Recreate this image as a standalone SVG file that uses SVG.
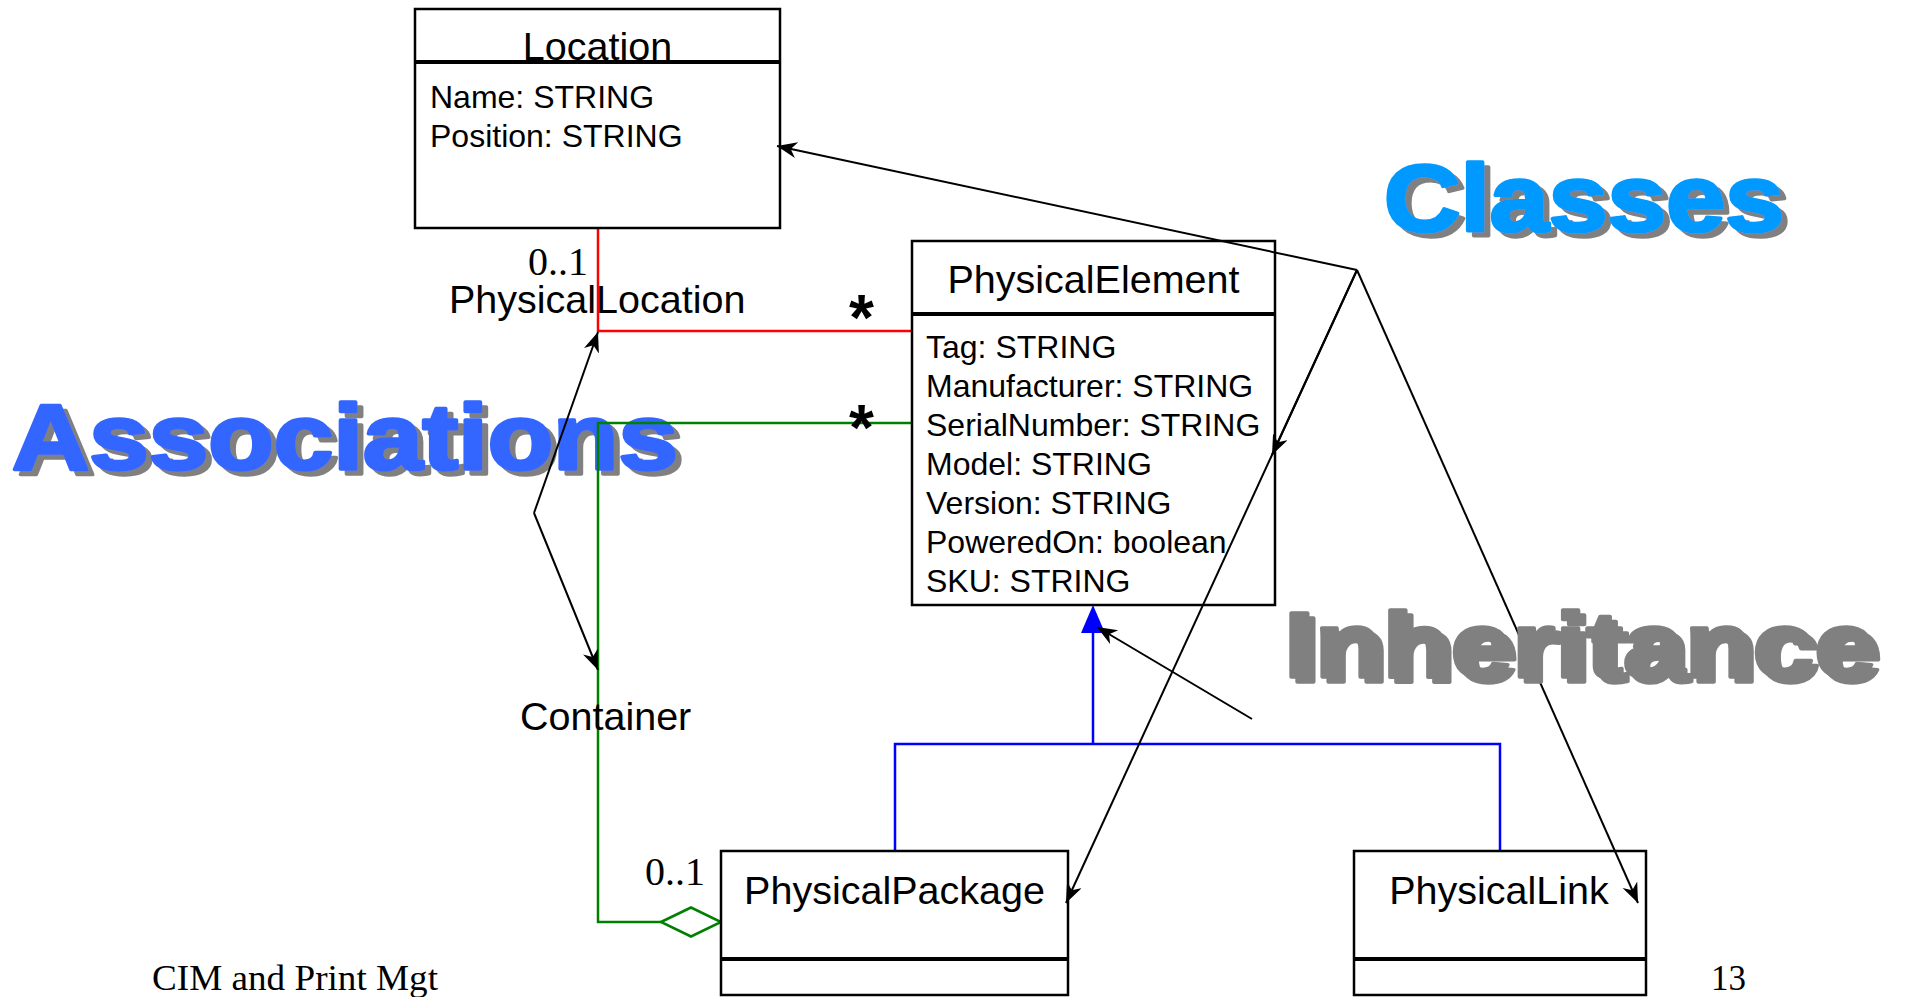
<svg xmlns="http://www.w3.org/2000/svg" width="1906" height="997" viewBox="0 0 1906 997">
<style>
  .box { fill: #ffffff; stroke: #000000; stroke-width: 2.5; }
  .sep { stroke: #000000; stroke-width: 4; }
  .cls { font-family: "Liberation Sans", Arial, sans-serif; font-size: 39.5px; fill: #000000; }
  .attr { font-family: "Liberation Sans", Arial, sans-serif; font-size: 32px; fill: #000000; }
  .lbl { font-family: "Liberation Sans", Arial, sans-serif; font-size: 39.5px; fill: #000000; }
  .mult { font-family: "Liberation Serif", "Times New Roman", serif; font-size: 40px; fill: #000000; }
  .star { font-family: "Liberation Sans", Arial, sans-serif; font-size: 64px; font-weight: bold; fill: #000000; }
  .foot { font-family: "Liberation Serif", "Times New Roman", serif; font-size: 35px; fill: #000000; }
  .big { font-family: "Liberation Sans", Arial, sans-serif; font-weight: bold; stroke-width: 3.5; stroke-linejoin: round; filter: url(#shadow); }
  .arrow { fill: none; stroke: #000000; stroke-width: 2; marker-end: url(#ah); }
</style>
<defs>
  <marker id="ah" markerUnits="userSpaceOnUse" markerWidth="24" markerHeight="18" refX="20" refY="8" orient="auto">
    <path d="M0,0 L20,8 L0,16 L6,8 Z" fill="#000000"/>
  </marker>
  <filter id="shadow" x="-5%" y="-15%" width="115%" height="140%">
    <feOffset in="SourceAlpha" dx="6" dy="5" result="off"/>
    <feFlood flood-color="#808080" result="col"/>
    <feComposite in="col" in2="off" operator="in" result="sh"/>
    <feMerge>
      <feMergeNode in="sh"/>
      <feMergeNode in="SourceGraphic"/>
    </feMerge>
  </filter>
</defs>
<rect width="1906" height="997" fill="#ffffff"/>

<g id="label-associations">
  <text class="big" x="12" y="469" font-size="92" fill="#3366ff" stroke="#3366ff" textLength="666" lengthAdjust="spacingAndGlyphs">Associations</text>
</g>
<g id="label-classes">
  <text class="big" x="1384" y="231" font-size="94" fill="#0099ff" stroke="#0099ff" textLength="400" lengthAdjust="spacingAndGlyphs">Classes</text>
</g>

<g id="connectors">
  <polyline points="598,228 598,331 913,331" fill="none" stroke="#ff0000" stroke-width="2.5"/>
  <polyline points="913,423 598,423 598,922 661,922" fill="none" stroke="#008000" stroke-width="2.5"/>
  <polygon points="661,922 691,907.5 721,922 691,936.5" fill="#ffffff" stroke="#008000" stroke-width="2.5"/>
  <polyline points="1093,632 1093,744" fill="none" stroke="#0000ff" stroke-width="2.5"/>
  <polyline points="895,851 895,744 1500,744 1500,851" fill="none" stroke="#0000ff" stroke-width="2.5"/>
  <polygon points="1093,605 1105,633 1081,633" fill="#0000ff"/>
  <text class="mult" x="528" y="275">0..1</text>
  <text class="lbl" x="449" y="313">PhysicalLocation</text>
  <text class="star" x="849" y="340">*</text>
  <text class="star" x="849" y="450">*</text>
  <text class="lbl" x="520" y="730">Container</text>
  <text class="mult" x="645" y="885">0..1</text>
</g>

<g id="node-location">
  <rect class="box" x="415" y="9" width="365" height="219"/>
  <line class="sep" x1="415" y1="62" x2="780" y2="62"/>
  <text class="cls" x="597.5" y="60" text-anchor="middle">Location</text>
  <text class="attr" x="430" y="108">Name: STRING</text>
  <text class="attr" x="430" y="147">Position: STRING</text>
</g>

<g id="node-physicalelement">
  <rect class="box" x="912" y="241" width="363" height="364"/>
  <line class="sep" x1="912" y1="314" x2="1275" y2="314"/>
  <text class="cls" x="1093.5" y="293" text-anchor="middle">PhysicalElement</text>
  <text class="attr" x="926" y="358">Tag: STRING</text>
  <text class="attr" x="926" y="397">Manufacturer: STRING</text>
  <text class="attr" x="926" y="436">SerialNumber: STRING</text>
  <text class="attr" x="926" y="475">Model: STRING</text>
  <text class="attr" x="926" y="514">Version: STRING</text>
  <text class="attr" x="926" y="553">PoweredOn: boolean</text>
  <text class="attr" x="926" y="592">SKU: STRING</text>
</g>

<g id="node-physicalpackage">
  <rect class="box" x="721" y="851" width="347" height="144"/>
  <line class="sep" x1="721" y1="959" x2="1068" y2="959"/>
  <text class="cls" x="894.5" y="904" text-anchor="middle">PhysicalPackage</text>
</g>

<g id="node-physicallink">
  <rect class="box" x="1354" y="851" width="292" height="144"/>
  <line class="sep" x1="1354" y1="959" x2="1646" y2="959"/>
  <text class="cls" x="1499" y="904" text-anchor="middle">PhysicalLink</text>
</g>

<g id="annotation-arrows">
  <line class="arrow" x1="1357" y1="270" x2="777" y2="146"/>
  <line class="arrow" x1="1357" y1="270" x2="1272" y2="455"/>
  <line class="arrow" x1="1357" y1="270" x2="1066" y2="903"/>
  <line class="arrow" x1="1357" y1="270" x2="1638" y2="903"/>
  <polyline class="arrow" points="534,513 598,332"/>
  <polyline class="arrow" points="534,513 598,670"/>
  <line class="arrow" x1="1252" y1="719" x2="1097" y2="627"/>
</g>

<g id="label-inheritance">
  <text class="big" x="1284" y="677" font-size="93" fill="#808080" stroke="#808080" textLength="592" lengthAdjust="spacingAndGlyphs">Inheritance</text>
</g>

<g id="footer">
  <text class="foot" x="152" y="990" textLength="286" lengthAdjust="spacingAndGlyphs">CIM and Print Mgt</text>
  <text class="foot" x="1711" y="990">13</text>
</g>
</svg>
